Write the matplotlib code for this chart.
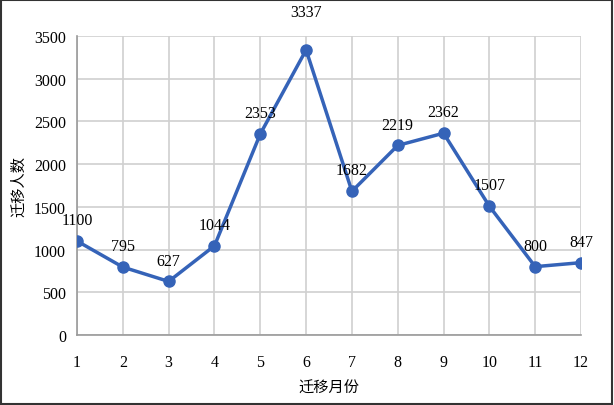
import matplotlib
matplotlib.use("Agg")
from matplotlib import pyplot as plt

months = [1, 2, 3, 4, 5, 6, 7, 8, 9, 10, 11, 12]
migrants = [1100, 795, 627, 1044, 2353, 3337, 1682, 2219, 2362, 1507, 800, 847]
y_ticks = [0, 500, 1000, 1500, 2000, 2500, 3000, 3500]

plt.rcParams['font.family'] = ['Liberation Serif', 'Noto Serif CJK SC', 'Noto Sans CJK SC']

fig = plt.figure(figsize=(6.14, 4.06), dpi=100)
ax = fig.add_axes([0.1254, 0.1724, 0.8209, 0.7365])

line_col = '#3563B8'
ax.plot(months, migrants, color=line_col, lw=2.5, marker='o', ms=8, zorder=3)

for m, v in zip(months, migrants):
    dy = 27 if m == 6 else 15
    ax.annotate(str(v), (m, v), xytext=(0, dy), textcoords='offset points',
                ha='center', va='center', fontsize=11.5)

ax.set_xlim(1, 12)
ax.set_ylim(0, 3500)
ax.set_xticks(months)
ax.set_yticks(y_ticks)
ax.grid(True, color='#d0d0d0', lw=1.2)
ax.set_axisbelow(True)
ax.tick_params(length=0, labelsize=11.5, pad=8)
ax.tick_params(axis='x', pad=14)
for s in ['top', 'right']:
    ax.spines[s].set_visible(False)
for s in ['left', 'bottom']:
    ax.spines[s].set_color('#9a9a9a')
    ax.spines[s].set_linewidth(1.2)

ax.set_xlabel('迁移月份', fontsize=11, family=['Noto Sans CJK SC'], labelpad=6)
ax.set_ylabel('迁移人数', fontsize=11, family=['Noto Sans CJK SC'], labelpad=5)

border = plt.Rectangle((0.002, 0.003), 0.994, 0.994, transform=fig.transFigure,
                       fill=False, edgecolor='#333333', lw=1.5)
fig.patches.append(border)

fig.savefig('out.png', dpi=100)
